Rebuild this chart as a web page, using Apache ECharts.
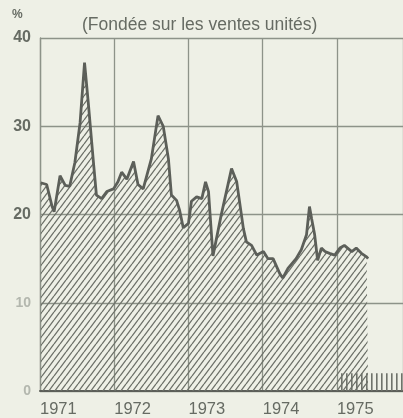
<!DOCTYPE html>
<html>
<head>
<meta charset="utf-8">
<script src="https://cdn.jsdelivr.net/npm/echarts@6/dist/echarts.min.js"></script>
<style>
	html, body { margin: 0; padding: 0; background: #eef0e6; }
	#chart { width: 403px; height: 418px; }
</style>
</head>
<body>
<div id="chart"></div>
<script>
// dates as decimal years, values in %
const dates = [1971.01, 1971.09, 1971.16, 1971.19, 1971.27, 1971.34, 1971.40, 1971.47, 1971.54, 1971.60, 1971.65,
	1971.72, 1971.76, 1971.83, 1971.90, 1971.99, 1972.05, 1972.10, 1972.17, 1972.26, 1972.32, 1972.39, 1972.50,
	1972.59, 1972.66, 1972.73, 1972.77, 1972.84, 1972.88, 1972.93, 1973.00, 1973.04, 1973.11, 1973.18, 1973.23,
	1973.27, 1973.33, 1973.44, 1973.58, 1973.65, 1973.74, 1973.78, 1973.85, 1973.92, 1974.01, 1974.07, 1974.14,
	1974.23, 1974.27, 1974.34, 1974.45, 1974.52, 1974.59, 1974.63, 1974.66, 1974.70, 1974.74, 1974.79, 1974.84,
	1974.90, 1974.97, 1975.04, 1975.10, 1975.20, 1975.26, 1975.33, 1975.40, 1975.42];
const share = [23.6, 23.4, 21.0, 20.3, 24.4, 23.3, 23.2, 25.9, 30.4, 37.2, 32.7,
	25.9, 22.2, 21.8, 22.6, 22.9, 23.7, 24.8, 24.0, 26.0, 23.4, 22.9, 26.3,
	31.2, 30.0, 26.3, 22.2, 21.6, 20.5, 18.5, 19.0, 21.5, 22.0, 21.8, 23.7,
	22.6, 15.3, 19.9, 25.2, 23.7, 18.4, 16.9, 16.5, 15.4, 15.8, 15.0, 15.0,
	13.3, 12.8, 13.9, 15.0, 16.0, 17.7, 20.9, 19.5, 17.7, 14.8, 16.2, 15.8,
	15.6, 15.4, 16.2, 16.5, 15.8, 16.2, 15.6, 15.2, 15.0];
const yTicks = [0, 10, 20, 30, 40];
const years = [1971, 1972, 1973, 1974, 1975];

const INK = '#5c5f59';
const GRID = '#8d9389';
const TEXT = '#666b63';

// hatch pattern for the area
function makeHatch(w, h, color, lw){
	let c = document.createElement('canvas');
	c.width = w; c.height = h;
	let ctx = c.getContext('2d');
	ctx.strokeStyle = color;
	ctx.lineWidth = lw;
	ctx.beginPath();
	ctx.moveTo(0, h); ctx.lineTo(w, 0);
	ctx.moveTo(-w, h); ctx.lineTo(0, 0);
	ctx.moveTo(w, h); ctx.lineTo(2 * w, 0);
	ctx.stroke();
	return c;
}
function makeBars(w, h, color){
	let c = document.createElement('canvas');
	c.width = w; c.height = h;
	let ctx = c.getContext('2d');
	ctx.fillStyle = color;
	ctx.fillRect(1, 0, 1.6, h);
	return c;
}

let points = dates.map((d, i) => [d, share[i]]);

let myChart = echarts.init(document.getElementById('chart'));
let option = {
	backgroundColor: '#eef0e6',
	animation: false,
	title: {
		text: '(Fondée sur les ventes unités)',
		left: 77,
		top: 11,
		textStyle: {
			fontFamily: 'Liberation Sans',
			fontSize: 17.5,
			fontWeight: 'normal',
			color: TEXT
		}
	},
	graphic: [{
		type: 'text',
		left: 12,
		top: 9,
		style: {
			text: '%',
			fontFamily: 'Liberation Sans',
			fontSize: 12,
			fontWeight: 'bold',
			fill: TEXT
		}
	}],
	grid: {
		left: 40,
		right: 0,
		top: 38,
		bottom: 25
	},
	xAxis: {
		type: 'value',
		min: 1971,
		max: 1975.89,
		interval: 1,
		axisLine: { show: true, lineStyle: { color: INK, width: 2 } },
		axisTick: { show: false },
		splitLine: { show: true, lineStyle: { color: GRID, width: 1.3 } },
		axisLabel: {
			showMaxLabel: false,
			align: 'left',
			margin: 10,
			fontFamily: 'Liberation Sans',
			fontSize: 16.5,
			color: TEXT,
			formatter: v => years.indexOf(v) >= 0 ? String(v) : ''
		}
	},
	yAxis: {
		type: 'value',
		min: yTicks[0],
		max: yTicks[yTicks.length - 1],
		interval: 10,
		axisLine: { show: true, lineStyle: { color: GRID, width: 1.3 } },
		axisTick: { show: false },
		splitLine: { show: true, lineStyle: { color: GRID, width: 1.3 } },
		axisLabel: {
			margin: 9,
			fontFamily: 'Liberation Sans',
			fontSize: 16,
			fontWeight: 'bold',
			formatter: v => v < 20 ? '{f|' + v + '}' : String(v),
			color: TEXT,
			rich: {
				f: { fontFamily: 'Liberation Sans', fontSize: 14, color: '#b3b7ae' }
			}
		}
	},
	series: [{
		type: 'line',
		data: points,
		symbol: 'none',
		smooth: false,
		lineStyle: { color: INK, width: 2.8 },
		areaStyle: {
			origin: 'start',
			opacity: 1,
			color: { image: makeHatch(6, 8, '#6c7068', 1.3), repeat: 'repeat' }
		},
		markArea: {
			silent: true,
			itemStyle: {
				color: { image: makeBars(5, 6, '#6f736b'), repeat: 'repeat' }
			},
			data: [[{ coord: [1975.05, 0] }, { coord: [1975.89, 2.0] }]]
		},
		z: 3
	}]
};
myChart.setOption(option);
</script>
</body>
</html>
